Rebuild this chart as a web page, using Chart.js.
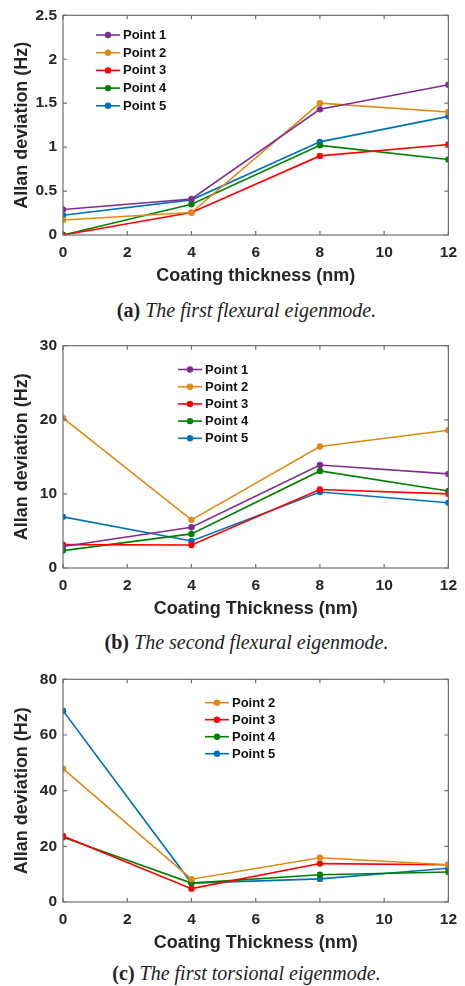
<!DOCTYPE html>
<html>
<head>
<meta charset="utf-8">
<script src="https://cdn.jsdelivr.net/npm/chart.js@4/dist/chart.umd.min.js"></script>
<style>
  body { margin: 0; background: #fff; width: 465px; height: 986px; position: relative; overflow: hidden; }
  .panel { position: absolute; left: 0; width: 465px; }
  .cap { position: absolute; left: 14px; width: 465px; text-align: center; font-family: "Liberation Serif", "DejaVu Serif", serif; font-size: 20px; line-height: 22px; color: #222; }
  .cap b { font-style: normal; }
</style>
</head>
<body>
<div class="panel" style="top:0"><canvas id="chartA" width="465" height="290"></canvas></div>
<div class="cap" style="top:299px"><b>(a)</b> <i>The first flexural eigenmode.</i></div>
<div class="panel" style="top:330px"><canvas id="chartB" width="465" height="293"></canvas></div>
<div class="cap" style="top:631px"><b>(b)</b> <i>The second flexural eigenmode.</i></div>
<div class="panel" style="top:660px"><canvas id="chartC" width="465" height="297"></canvas></div>
<div class="cap" style="top:962px"><b>(c)</b> <i>The first torsional eigenmode.</i></div>

<script>
// coating thickness (nm)
var thickness = [0, 4, 8, 12];

// (a) first flexural eigenmode
var a_p1 = [0.29, 0.41, 1.43, 1.71];
var a_p2 = [0.17, 0.255, 1.50, 1.40];
var a_p3 = [0.0, 0.255, 0.90, 1.03];
var a_p4 = [0.0, 0.35, 1.02, 0.86];
var a_p5 = [0.225, 0.40, 1.06, 1.35];

// (b) second flexural eigenmode
var b_p1 = [2.9, 5.5, 13.9, 12.7];
var b_p2 = [20.25, 6.5, 16.4, 18.6];
var b_p3 = [3.15, 3.1, 10.6, 10.0];
var b_p4 = [2.35, 4.6, 13.1, 10.4];
var b_p5 = [6.9, 3.65, 10.25, 8.8];

// (c) first torsional eigenmode
var c_p2 = [47.9, 8.2, 15.9, 13.4];
var c_p3 = [23.7, 4.8, 13.8, 13.4];
var c_p4 = [23.3, 6.8, 9.8, 10.8];
var c_p5 = [68.7, 6.8, 8.3, 12.1];

var xTicks = [0, 2, 4, 6, 8, 10, 12];

var colors = {
  "Point 1": "#7E2F8E",
  "Point 2": "#DF8A14",
  "Point 3": "#FF0000",
  "Point 4": "#008000",
  "Point 5": "#0072BD"
};

var sans = "'Liberation Sans', Arial, sans-serif";

function mkSet(name, vals){
  return {
    label: name,
    data: thickness.map(function(t, i){ return {x: t, y: vals[i]}; }),
    borderColor: colors[name],
    backgroundColor: colors[name],
    borderWidth: 1.6,
    pointRadius: 3.2,
    pointHoverRadius: 3.2,
    pointBorderWidth: 0,
    tension: 0
  };
}

// box around plot with inward ticks, matlab look
var boxPlugin = {
  id: "boxTicks",
  afterDatasetsDraw: function(chart){
    var ctx = chart.ctx, a = chart.chartArea;
    var xs = chart.scales.x, ys = chart.scales.y;
    ctx.save();
    ctx.strokeStyle = "#6e6e6e";
    ctx.lineWidth = 1.2;
    ctx.strokeRect(a.left, a.top, a.right - a.left, a.bottom - a.top);
    var len = 4;
    ctx.beginPath();
    xs.ticks.forEach(function(t){
      var px = xs.getPixelForValue(t.value);
      ctx.moveTo(px, a.bottom); ctx.lineTo(px, a.bottom - len);
      ctx.moveTo(px, a.top); ctx.lineTo(px, a.top + len);
    });
    ys.ticks.forEach(function(t){
      var py = ys.getPixelForValue(t.value);
      ctx.moveTo(a.left, py); ctx.lineTo(a.left + len, py);
      ctx.moveTo(a.right, py); ctx.lineTo(a.right - len, py);
    });
    ctx.stroke();
    ctx.restore();
  }
};

// legend with line + dot sample, placed inside the plot
var legendPlugin = {
  id: "inLegend",
  afterDatasetsDraw: function(chart, args, opts){
    var ctx = chart.ctx;
    var x0 = opts.x, y0 = opts.y, gap = opts.gap;
    ctx.save();
    ctx.font = "bold 13px " + sans;
    ctx.textBaseline = "middle";
    chart.data.datasets.forEach(function(ds, i){
      var y = y0 + i * gap;
      ctx.strokeStyle = ds.borderColor;
      ctx.lineWidth = 1.6;
      ctx.beginPath(); ctx.moveTo(x0, y); ctx.lineTo(x0 + 24, y); ctx.stroke();
      ctx.fillStyle = ds.borderColor;
      ctx.beginPath(); ctx.arc(x0 + 12, y, 3.2, 0, Math.PI * 2); ctx.fill();
      ctx.fillStyle = "#111";
      ctx.fillText(ds.label, x0 + 27, y + 0.5);
    });
    ctx.restore();
  }
};

function makeChart(id, sets, yMax, yStep, xTitle, topPad, leg){
  return new Chart(id, {
    type: "line",
    data: { datasets: sets },
    plugins: [boxPlugin, legendPlugin],
    options: {
      responsive: false,
      animation: false,
      layout: { padding: { top: topPad, right: 16, left: 0, bottom: 0 } },
      plugins: {
        legend: { display: false },
        tooltip: { enabled: false },
        inLegend: leg
      },
      scales: {
        x: {
          type: "linear",
          min: 0, max: 12,
          afterBuildTicks: function(s){ s.ticks = xTicks.map(function(v){ return {value: v}; }); },
          grid: { display: false, drawTicks: false, tickLength: 0 },
          border: { display: false },
          ticks: { color: "#262626", padding: 8, font: { family: sans, size: 15.5, weight: "bold" } },
          title: { display: true, text: xTitle, color: "#262626", padding: { top: 0, bottom: 3 }, font: { family: sans, size: 18, weight: "bold" } },
          afterFit: function(s){ s.height = 55; }
        },
        y: {
          min: 0, max: yMax,
          ticks: {
            stepSize: yStep, color: "#262626", padding: 6,
            font: { family: sans, size: 15.5, weight: "bold" },
            callback: function(v){ return String(v); }
          },
          grid: { display: false, drawTicks: false, tickLength: 0 },
          border: { display: false },
          title: { display: true, text: "Allan deviation (Hz)", color: "#262626", padding: { top: 11, bottom: 0 }, font: { family: sans, size: 18, weight: "bold" } },
          afterFit: function(s){ s.width = 63; }
        }
      }
    }
  });
}

makeChart("chartA",
  [mkSet("Point 1", a_p1), mkSet("Point 2", a_p2), mkSet("Point 3", a_p3), mkSet("Point 4", a_p4), mkSet("Point 5", a_p5)],
  2.5, 0.5, "Coating thickness (nm)", 12.7, { x: 96, y: 35, gap: 17.7 });

makeChart("chartB",
  [mkSet("Point 1", b_p1), mkSet("Point 2", b_p2), mkSet("Point 3", b_p3), mkSet("Point 4", b_p4), mkSet("Point 5", b_p5)],
  30, 10, "Coating Thickness (nm)", 15.7, { x: 178, y: 39.5, gap: 17.2 });

makeChart("chartC",
  [mkSet("Point 2", c_p2), mkSet("Point 3", c_p3), mkSet("Point 4", c_p4), mkSet("Point 5", c_p5)],
  80, 20, "Coating Thickness (nm)", 19.3, { x: 205, y: 42.7, gap: 17 });
</script>
</body>
</html>
